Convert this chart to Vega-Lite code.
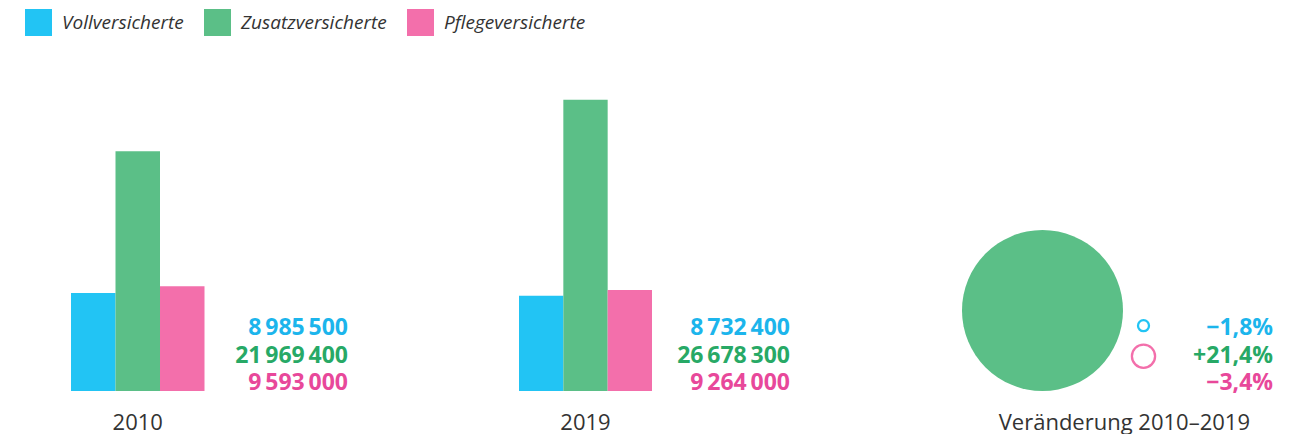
{
  "$schema": "https://vega.github.io/schema/vega-lite/v6.json",
  "padding": 0,
  "autosize": {"type": "pad"},
  "background": "white",
  "spacing": 0,
  "config": {
    "view": {"stroke": null},
    "font": "Open Sans",
    "locale": {"number": {"decimal": ",", "thousands": "\u2009", "grouping": [3], "currency": ["", " €"], "minus": "\u2212", "percent": "%"}}
  },
  "datasets": {
    "versicherte": [
      {"jahr": "2010", "art": "Vollversicherte", "anzahl": 8985500},
      {"jahr": "2010", "art": "Zusatzversicherte", "anzahl": 21969400},
      {"jahr": "2010", "art": "Pflegeversicherte", "anzahl": 9593000},
      {"jahr": "2019", "art": "Vollversicherte", "anzahl": 8732400},
      {"jahr": "2019", "art": "Zusatzversicherte", "anzahl": 26678300},
      {"jahr": "2019", "art": "Pflegeversicherte", "anzahl": 9264000}
    ],
    "veraenderung": [
      {"titel": "Veränderung 2010–2019", "art": "Vollversicherte", "aenderung": -0.018, "trend": "Abnahme"},
      {"titel": "Veränderung 2010–2019", "art": "Zusatzversicherte", "aenderung": 0.214, "trend": "Zunahme"},
      {"titel": "Veränderung 2010–2019", "art": "Pflegeversicherte", "aenderung": -0.034, "trend": "Abnahme"}
    ]
  },
  "hconcat": [
    {
      "width": 348, "height": 391,
      "data": {"name": "versicherte"},
      "transform": [{"filter": "datum.jahr == '2010'"}],
      "layer": [
        {
          "mark": {"type": "bar"},
          "encoding": {
            "x": {"field": "art", "type": "nominal", "scale": {"domain": ["Vollversicherte", "Zusatzversicherte", "Pflegeversicherte"], "range": [71, 204.5], "paddingInner": 0, "paddingOuter": 0}, "axis": null},
            "y": {"field": "anzahl", "type": "quantitative", "scale": {"domain": [0, 35820000], "nice": false, "zero": false}, "axis": null},
            "color": {"field": "art", "type": "nominal", "scale": {"domain": ["Vollversicherte", "Zusatzversicherte", "Pflegeversicherte"], "range": ["#22c4f4", "#5bbf87", "#f36fab"]},
              "legend": {"title": null, "orient": "none", "legendX": 25, "legendY": 9, "direction": "horizontal", "symbolType": "square", "symbolSize": 729, "symbolStrokeWidth": 0, "symbolOpacity": 1, "labelFontSize": 19, "labelFontStyle": "italic", "labelColor": "#333333", "labelOffset": 10, "columnPadding": 20, "padding": 0, "labelFont": "Open Sans"}}
          }
        },
        {
          "mark": {"type": "text", "align": "right", "baseline": "middle", "fontSize": 23, "fontWeight": "bold"},
          "encoding": {
            "x": {"value": "width"},
            "y": {"field": "art", "type": "nominal", "scale": {"domain": ["Vollversicherte", "Zusatzversicherte", "Pflegeversicherte"], "range": [328, 383.3], "padding": 0}, "axis": null},
            "text": {"field": "anzahl", "type": "quantitative", "format": ",d"},
            "fill": {"field": "art", "type": "nominal", "scale": {"domain": ["Vollversicherte", "Zusatzversicherte", "Pflegeversicherte"], "range": ["#1cb5ec", "#27a966", "#e8489a"]}, "legend": null}
          }
        },
        {
          "transform": [{"filter": "datum.art == 'Zusatzversicherte'"}],
          "mark": {"type": "text", "align": "center", "baseline": "alphabetic", "fontSize": 22, "color": "#333333", "dy": 39},
          "encoding": {
            "x": {"field": "art", "type": "nominal", "bandPosition": 0.5},
            "y": {"value": "height"},
            "text": {"field": "jahr", "type": "nominal"}
          }
        }
      ],
      "resolve": {"scale": {"y": "independent"}}
    },
    {
      "width": 442, "height": 391,
      "data": {"name": "versicherte"},
      "transform": [{"filter": "datum.jahr == '2019'"}],
      "layer": [
        {
          "mark": {"type": "bar"},
          "encoding": {
            "x": {"field": "art", "type": "nominal", "scale": {"domain": ["Vollversicherte", "Zusatzversicherte", "Pflegeversicherte"], "range": [171, 304], "paddingInner": 0, "paddingOuter": 0}, "axis": null},
            "y": {"field": "anzahl", "type": "quantitative", "scale": {"domain": [0, 35820000], "nice": false, "zero": false}, "axis": null},
            "color": {"field": "art", "type": "nominal", "scale": {"domain": ["Vollversicherte", "Zusatzversicherte", "Pflegeversicherte"], "range": ["#22c4f4", "#5bbf87", "#f36fab"]},
              "legend": {"title": null, "orient": "none", "legendX": 25, "legendY": 9, "direction": "horizontal", "symbolType": "square", "symbolSize": 729, "symbolStrokeWidth": 0, "symbolOpacity": 1, "labelFontSize": 19, "labelFontStyle": "italic", "labelColor": "#333333", "labelOffset": 10, "columnPadding": 20, "padding": 0, "labelFont": "Open Sans"}}
          }
        },
        {
          "mark": {"type": "text", "align": "right", "baseline": "middle", "fontSize": 23, "fontWeight": "bold"},
          "encoding": {
            "x": {"value": "width"},
            "y": {"field": "art", "type": "nominal", "scale": {"domain": ["Vollversicherte", "Zusatzversicherte", "Pflegeversicherte"], "range": [328, 383.3], "padding": 0}, "axis": null},
            "text": {"field": "anzahl", "type": "quantitative", "format": ",d"},
            "fill": {"field": "art", "type": "nominal", "scale": {"domain": ["Vollversicherte", "Zusatzversicherte", "Pflegeversicherte"], "range": ["#1cb5ec", "#27a966", "#e8489a"]}, "legend": null}
          }
        },
        {
          "transform": [{"filter": "datum.art == 'Zusatzversicherte'"}],
          "mark": {"type": "text", "align": "center", "baseline": "alphabetic", "fontSize": 22, "color": "#333333", "dy": 39},
          "encoding": {
            "x": {"field": "art", "type": "nominal", "bandPosition": 0.5},
            "y": {"value": "height"},
            "text": {"field": "jahr", "type": "nominal"}
          }
        }
      ],
      "resolve": {"scale": {"y": "independent"}}
    },
    {
      "width": 483, "height": 391,
      "data": {"name": "veraenderung"},
      "layer": [
        {
          "transform": [{"filter": "datum.trend == 'Zunahme'"}],
          "mark": {"type": "point", "shape": "circle", "filled": true, "opacity": 1, "strokeWidth": 0},
          "encoding": {
            "x": {"field": "trend", "type": "nominal", "scale": {"domain": ["Zunahme", "Abnahme"], "range": [252.5, 353.5], "padding": 0}, "axis": null},
            "y": {"field": "art", "type": "nominal", "scale": {"domain": ["Zusatzversicherte"], "range": [310.5, 310.5], "padding": 0}, "axis": null},
            "color": {"field": "art", "type": "nominal", "scale": {"domain": ["Vollversicherte", "Zusatzversicherte", "Pflegeversicherte"], "range": ["#22c4f4", "#5bbf87", "#f36fab"]},
              "legend": {"title": null, "orient": "none", "legendX": 25, "legendY": 9, "direction": "horizontal", "symbolType": "square", "symbolSize": 729, "symbolStrokeWidth": 0, "symbolOpacity": 1, "labelFontSize": 19, "labelFontStyle": "italic", "labelColor": "#333333", "labelOffset": 10, "columnPadding": 20, "padding": 0, "labelFont": "Open Sans"}},
            "size": {"field": "aenderung", "type": "quantitative", "scale": {"domain": [-0.034, -0.018, 0.214], "range": [538, 121, 25921], "zero": false, "nice": false}, "legend": null}
          }
        },
        {
          "transform": [{"filter": "datum.trend == 'Abnahme'"}],
          "mark": {"type": "point", "shape": "circle", "filled": false, "opacity": 1, "strokeWidth": 2.3},
          "encoding": {
            "x": {"field": "trend", "type": "nominal", "scale": {"domain": ["Zunahme", "Abnahme"], "range": [252.5, 353.5], "padding": 0}, "axis": null},
            "y": {"field": "art", "type": "nominal", "scale": {"domain": ["Vollversicherte", "Pflegeversicherte"], "range": [325.7, 356.2], "padding": 0}, "axis": null},
            "stroke": {"field": "art", "type": "nominal", "scale": {"domain": ["Vollversicherte", "Zusatzversicherte", "Pflegeversicherte"], "range": ["#22c4f4", "#5bbf87", "#f36fab"]}, "legend": null},
            "size": {"field": "aenderung", "type": "quantitative", "scale": {"domain": [-0.034, -0.018, 0.214], "range": [538, 121, 25921], "zero": false, "nice": false}, "legend": null}
          }
        },
        {
          "mark": {"type": "text", "align": "right", "baseline": "middle", "fontSize": 23, "fontWeight": "bold"},
          "encoding": {
            "x": {"value": "width"},
            "y": {"field": "art", "type": "nominal", "scale": {"domain": ["Vollversicherte", "Zusatzversicherte", "Pflegeversicherte"], "range": [328, 383.3], "padding": 0}, "axis": null},
            "text": {"field": "aenderung", "type": "quantitative", "format": "+.1%"},
            "fill": {"field": "art", "type": "nominal", "scale": {"domain": ["Vollversicherte", "Zusatzversicherte", "Pflegeversicherte"], "range": ["#1cb5ec", "#27a966", "#e8489a"]}, "legend": null}
          }
        },
        {
          "transform": [{"filter": "datum.art == 'Zusatzversicherte'"}],
          "mark": {"type": "text", "align": "right", "baseline": "alphabetic", "fontSize": 22, "color": "#333333", "dy": 39, "dx": -23},
          "encoding": {
            "x": {"value": "width"},
            "y": {"value": "height"},
            "text": {"field": "titel", "type": "nominal"}
          }
        }
      ],
      "resolve": {"scale": {"y": "independent"}}
    }
  ]
}
